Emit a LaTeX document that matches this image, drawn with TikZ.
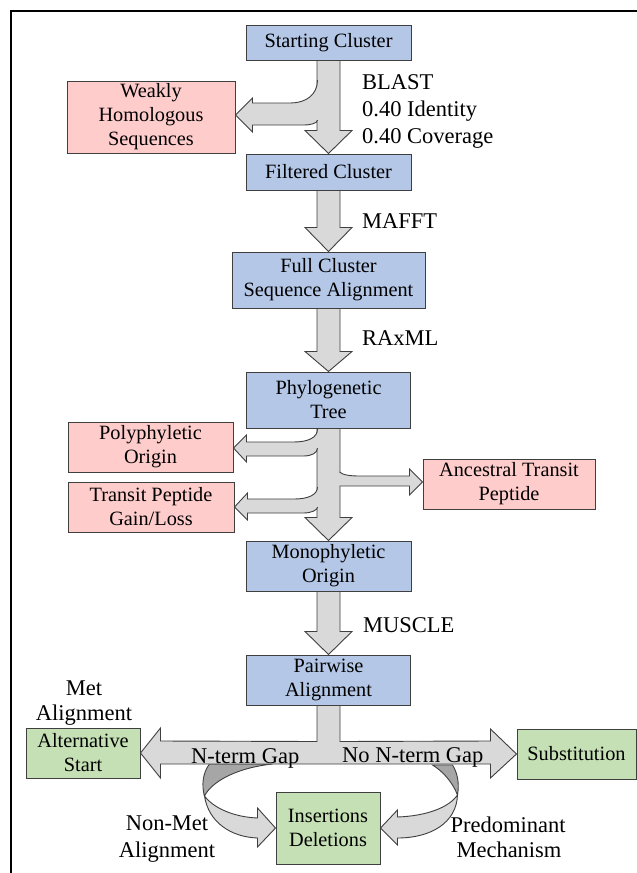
\documentclass[tikz,border=0pt]{standalone}
\usepackage{fontspec}
\setmainfont{Liberation Serif}
\usetikzlibrary{calc}
\definecolor{boxblue}{HTML}{B4C7E7}
\definecolor{boxred}{HTML}{FFCCCC}
\definecolor{boxgreen}{HTML}{C5E0B4}
\definecolor{arrgray}{HTML}{D9D9D9}
\definecolor{arrdark}{HTML}{A6A6A6}
\definecolor{edgecol}{HTML}{3F3F3F}
\newcommand{\mainarrow}[3]{%
  \draw[blockarrow] ($(#1.south)+(-11.5,0)$) -- ($(#2.north)+(-11.5,-#3)$) -- ($(#2.north)+(-23.5,-#3)$) -- (#2.north) -- ($(#2.north)+(23.5,-#3)$) -- ($(#2.north)+(11.5,-#3)$) -- ($(#1.south)+(11.5,0)$) -- cycle;}
\begin{document}
\begin{tikzpicture}[x=1pt,y=-1pt,
  box/.style={draw=edgecol,line width=1pt,inner sep=0pt,align=center,font=\fontsize{20.3}{24}\selectfont},
  bluebox/.style={box,fill=boxblue},
  redbox/.style={box,fill=boxred},
  greenbox/.style={box,fill=boxgreen},
  lbl/.style={inner sep=0pt,font=\fontsize{22.5}{27}\selectfont},
  blockarrow/.style={fill=arrgray,draw=edgecol,line width=0.9pt,line join=miter},
  arrfill/.style={fill=arrgray},
  arroutline/.style={draw=edgecol,line width=0.9pt,line join=miter},
  darkpart/.style={fill=arrdark,draw=edgecol,line width=0.9pt},
]
\useasboundingbox (0,0) rectangle (637,873);
\fill[white] (0,0) rectangle (637,873);
% frame
\draw[line width=1.5pt] (11,873) -- (11,11) -- (637,11);

% boxes
\node[bluebox,minimum width=165,minimum height=35] (start) at (328.5,42.5) {Starting Cluster};
\node[redbox,minimum width=168,minimum height=72] (weak) at (151,117) {Weakly\\Homologous\\Sequences};
\node[bluebox,minimum width=165,minimum height=36] (filt) at (328.5,172) {Filtered Cluster};
\node[bluebox,minimum width=193,minimum height=56] (full) at (328.5,280) {Full Cluster\\Sequence Alignment};
\node[bluebox,minimum width=164,minimum height=56] (phylo) at (328.5,400) {Phylogenetic\\Tree};
\node[redbox,minimum width=165,minimum height=50] (poly) at (150.5,447) {Polyphyletic\\Origin};
\node[redbox,minimum width=166,minimum height=50] (transit) at (151,507) {Transit Peptide\\Gain/Loss};
\node[redbox,minimum width=172,minimum height=50] (anc) at (509,484) {Ancestral Transit\\Peptide};
\node[bluebox,minimum width=165,minimum height=50] (mono) at (328.5,566) {Monophyletic\\Origin};
\node[bluebox,minimum width=164,minimum height=50] (pair) at (328.5,680) {Pairwise\\Alignment};
\node[greenbox,minimum width=114,minimum height=50] (alt) at (83,753) {Alternative\\Start};
\node[greenbox,minimum width=119,minimum height=50] (subst) at (576.5,754) {Substitution};
\node[greenbox,minimum width=104,minimum height=72] (ins) at (328,828) {Insertions\\Deletions};

% main vertical arrows
\mainarrow{start}{filt}{23}
\mainarrow{filt}{full}{24}
\mainarrow{full}{phylo}{20}
\mainarrow{phylo}{mono}{23}
\mainarrow{mono}{pair}{23}

% side arrow to weakly homologous sequences
\begin{scope}[shift={($(weak.east)+(0,-2)$)}]
  \fill[arrfill] (87,-35) -- (82,-35) .. controls (82,-20) and (70,-12) .. (55,-12) -- (17,-12) -- (17,-17) -- (0,0) -- (17,17) -- (17,10) -- (68,10) .. controls (76,10) and (82,8) .. (82,5) -- (87,5) -- cycle;
  \draw[arroutline] (82,-35) .. controls (82,-20) and (70,-12) .. (55,-12) -- (17,-12) -- (17,-17) -- (0,0) -- (17,17) -- (17,10) -- (68,10) .. controls (76,10) and (82,8) .. (82,5);
\end{scope}

% side arrows from phylogenetic tree
\begin{scope}[shift={($(poly.east)+(0,1)$)}]
  \fill[arrfill] (89,-19) -- (84,-19) .. controls (84,-10) and (74,-6) .. (60,-6) -- (13,-6) -- (13,-13) -- (0,0) -- (13,14) -- (13,8) -- (70,8) .. controls (78,8) and (84,5) .. (84,0) -- (89,0) -- cycle;
  \draw[arroutline] (84,-19) .. controls (84,-10) and (74,-6) .. (60,-6) -- (13,-6) -- (13,-13) -- (0,0) -- (13,14) -- (13,8) -- (70,8) .. controls (78,8) and (84,5) .. (84,0);
\end{scope}
\begin{scope}[shift={(transit.east)}]
  \fill[arrfill] (88,-20) -- (83,-20) .. controls (83,-12) and (73,-8) .. (60,-8) -- (13,-8) -- (13,-14) -- (0,0) -- (13,13) -- (13,6) -- (69,6) .. controls (77,6) and (83,3) .. (83,0) -- (88,0) -- cycle;
  \draw[arroutline] (83,-20) .. controls (83,-12) and (73,-8) .. (60,-8) -- (13,-8) -- (13,-14) -- (0,0) -- (13,13) -- (13,6) -- (69,6) .. controls (77,6) and (83,3) .. (83,0);
\end{scope}
\begin{scope}[shift={($(anc.west)+(0,-2)$)}]
  \fill[arrfill] (-88,-10) -- (-83,-10) .. controls (-80,-7) and (-72,-6) .. (-63,-6) -- (-13,-6) -- (-13,-13) -- (0,0) -- (-13,13) -- (-13,4) -- (-83,4) -- (-88,4) -- cycle;
  \draw[arroutline] (-83,-10) .. controls (-80,-7) and (-72,-6) .. (-63,-6) -- (-13,-6) -- (-13,-13) -- (0,0) -- (-13,13) -- (-13,4) -- (-83,4);
\end{scope}

% curved arrows into insertions / deletions
\begin{scope}[shift={(ins.west)}]
  \draw[darkpart] (-66,-64) .. controls (-73,-55) and (-74,-42) .. (-71,-32) .. controls (-64,-46) and (-40,-60) .. (-3,-64) -- cycle;
  \draw[blockarrow] (-71,-32) .. controls (-67,-6) and (-45,9) .. (-18,10) -- (-18,19) -- (0,0) -- (-18,-20) -- (-18,-10) .. controls (-42,-11) and (-62,-20) .. (-71,-32) -- cycle;
\end{scope}
\begin{scope}[shift={(ins.east)}]
  \draw[darkpart] (52,-63) .. controls (62,-57) and (72,-46) .. (77,-33) .. controls (79,-45) and (77,-55) .. (72,-63) -- cycle;
  \draw[blockarrow] (77,-33) .. controls (76,-5) and (50,10) .. (17,10) -- (17,17) -- (0,0) -- (17,-18) -- (17,-11) .. controls (45,-12) and (68,-20) .. (77,-33) -- cycle;
\end{scope}

% T-shaped double arrow from pairwise alignment
\draw[blockarrow] ($(pair.south)+(-11.5,0)$) -- ($(pair.south)+(-11.5,36)$) -- ($(alt.east)+(20,-12)$) -- ($(alt.east)+(20,-25)$) -- (alt.east) -- ($(alt.east)+(20,25)$) -- ($(alt.east)+(20,11)$) -- ($(subst.west)+(-26,10)$) -- ($(subst.west)+(-26,24)$) -- (subst.west) -- ($(subst.west)+(-26,-25)$) -- ($(subst.west)+(-26,-13)$) -- ($(pair.south)+(11.5,36)$) -- ($(pair.south)+(11.5,0)$) -- cycle;

% labels
\node[lbl,anchor=base west] (blast) at (362,89) {BLAST};
\node[lbl,anchor=base west] (ident) at (362,116) {0.40 Identity};
\node[lbl,anchor=base west] (cover) at (362,143) {0.40 Coverage};
\node[lbl,anchor=base west] (mafft) at (362,228) {MAFFT};
\node[lbl,anchor=base west] (raxml) at (362,345) {RAxML};
\node[lbl,anchor=base west] (muscle) at (363,632) {MUSCLE};
\node[lbl,anchor=base] (met1) at (84,695) {Met};
\node[lbl,anchor=base] (met2) at (84,720) {Alignment};
\node[lbl,anchor=base west] (ngap) at (191,763) {N-term Gap};
\node[lbl,anchor=base west] (nongap) at (342,762) {No N-term Gap};
\node[lbl,anchor=base] (nonmet1) at (167,830) {Non-Met};
\node[lbl,anchor=base] (nonmet2) at (167,857) {Alignment};
\node[lbl,anchor=base] (pred1) at (508,832) {Predominant};
\node[lbl,anchor=base] (pred2) at (509,857) {Mechanism};
\end{tikzpicture}
\end{document}
